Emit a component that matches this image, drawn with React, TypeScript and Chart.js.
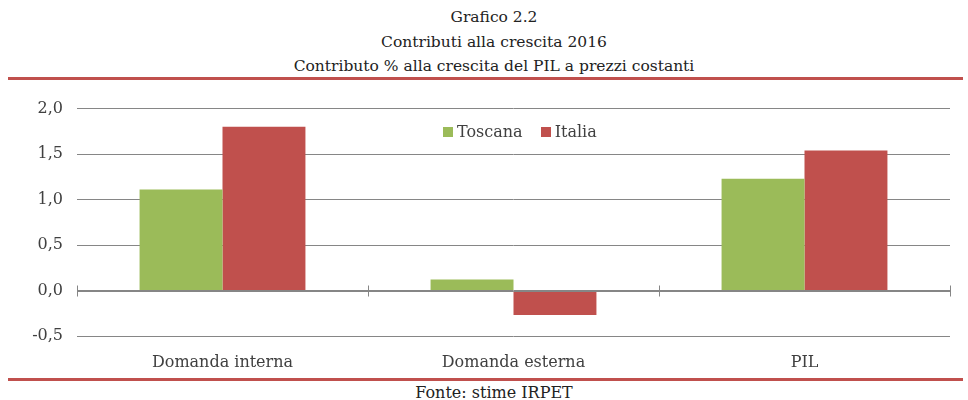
import React, { useEffect, useRef } from "react";
import { Chart, registerables } from "chart.js";

Chart.register(...registerables);

const categories = ["Domanda interna", "Domanda esterna", "PIL"];
const toscana = [1.11, 0.12, 1.23];
const italia = [1.8, -0.27, 1.54];
const seriesNames = ["Toscana", "Italia"];
const yMin = -0.5;
const yMax = 2.0;
const yStep = 0.5;
const titleLines = [
  "Grafico 2.2",
  "Contributi alla crescita 2016",
  "Contributo % alla crescita del PIL a prezzi costanti",
];
const source = "Fonte: stime IRPET";

const GREEN = "#9BBB59";
const RED = "#C0504D";
const FONT = "'DejaVu Serif', serif";

const zeroTicks = {
  id: "zeroTicks",
  afterDatasetsDraw(chart: any) {
    const { ctx, chartArea, scales } = chart;
    const y0 = scales.y.getPixelForValue(0);
    const n = chart.data.labels.length;
    const w = (chartArea.right - chartArea.left) / n;
    ctx.save();
    ctx.strokeStyle = "#868686";
    ctx.lineWidth = 1;
    ctx.beginPath();
    ctx.moveTo(chartArea.left, Math.round(y0) + 0.5);
    ctx.lineTo(chartArea.right, Math.round(y0) + 0.5);
    for (let i = 0; i <= n; i++) {
      const x = Math.round(chartArea.left + i * w) + 0.5;
      ctx.moveTo(x, y0 - 5);
      ctx.lineTo(x, y0 + 6);
    }
    ctx.stroke();
    ctx.restore();
  },
};

export default function App() {
  const ref = useRef<HTMLCanvasElement | null>(null);
  useEffect(() => {
    if (!ref.current) return;
    const chart = new Chart(ref.current, {
      type: "bar",
      data: {
        labels: categories,
        datasets: [
          { label: seriesNames[0], data: toscana, backgroundColor: GREEN, categoryPercentage: 0.57, barPercentage: 1 },
          { label: seriesNames[1], data: italia, backgroundColor: RED, categoryPercentage: 0.57, barPercentage: 1 },
        ],
      },
      plugins: [zeroTicks],
      options: {
        responsive: false,
        animation: false,
        layout: { padding: { left: 0, right: 18, top: 9, bottom: 0 } },
        plugins: { legend: { display: false }, tooltip: { enabled: false } },
        scales: {
          x: {
            grid: { display: false },
            border: { display: false },
            ticks: { color: "#404040", font: { family: FONT, size: 16 }, padding: 9 },
            afterFit: (s: any) => { s.height = 39; },
          },
          y: {
            min: yMin,
            max: yMax,
            ticks: {
              stepSize: yStep,
              color: "#404040",
              padding: 14,
              font: { family: FONT, size: 16 },
              callback: (v: any) => Number(v).toFixed(1).replace(".", ","),
            },
            grid: { color: "#868686", drawTicks: false },
            border: { display: false },
            afterFit: (s: any) => { s.width = 77; },
          },
        },
      },
    });
    return () => chart.destroy();
  }, []);

  const textStyle: React.CSSProperties = {
    position: "absolute",
    left: 0,
    width: 988,
    textAlign: "center",
    fontFamily: FONT,
    fontSize: 15.5,
    color: "#222",
    lineHeight: "18px",
    whiteSpace: "nowrap",
  };

  return (
    <div style={{ position: "absolute", left: 0, top: 0, width: 968, height: 400, background: "#fff", overflow: "hidden" }}>
      {titleLines.map((t, i) => (
        <div key={i} style={{ ...textStyle, top: 8 + i * 24.5 }}>{t}</div>
      ))}
      <div style={{ position: "absolute", left: 8, top: 77, width: 955, height: 3, background: RED }} />
      <canvas ref={ref} width={968} height={290} style={{ position: "absolute", left: 0, top: 85, width: 968, height: 290 }} />
      <div style={{ position: "absolute", left: 443, top: 122, fontFamily: FONT, fontSize: 16, color: "#404040", display: "flex", alignItems: "center", whiteSpace: "nowrap" }}>
        <span style={{ display: "inline-block", width: 10, height: 10, background: GREEN, marginRight: 4 }} />
        <span>{seriesNames[0]}</span>
        <span style={{ display: "inline-block", width: 10, height: 10, background: RED, marginLeft: 18, marginRight: 4 }} />
        <span>{seriesNames[1]}</span>
      </div>
      <div style={{ position: "absolute", left: 8, top: 378, width: 955, height: 3, background: RED }} />
      <div style={{ ...textStyle, fontSize: 16, top: 384 }}>{source}</div>
    </div>
  );
}
